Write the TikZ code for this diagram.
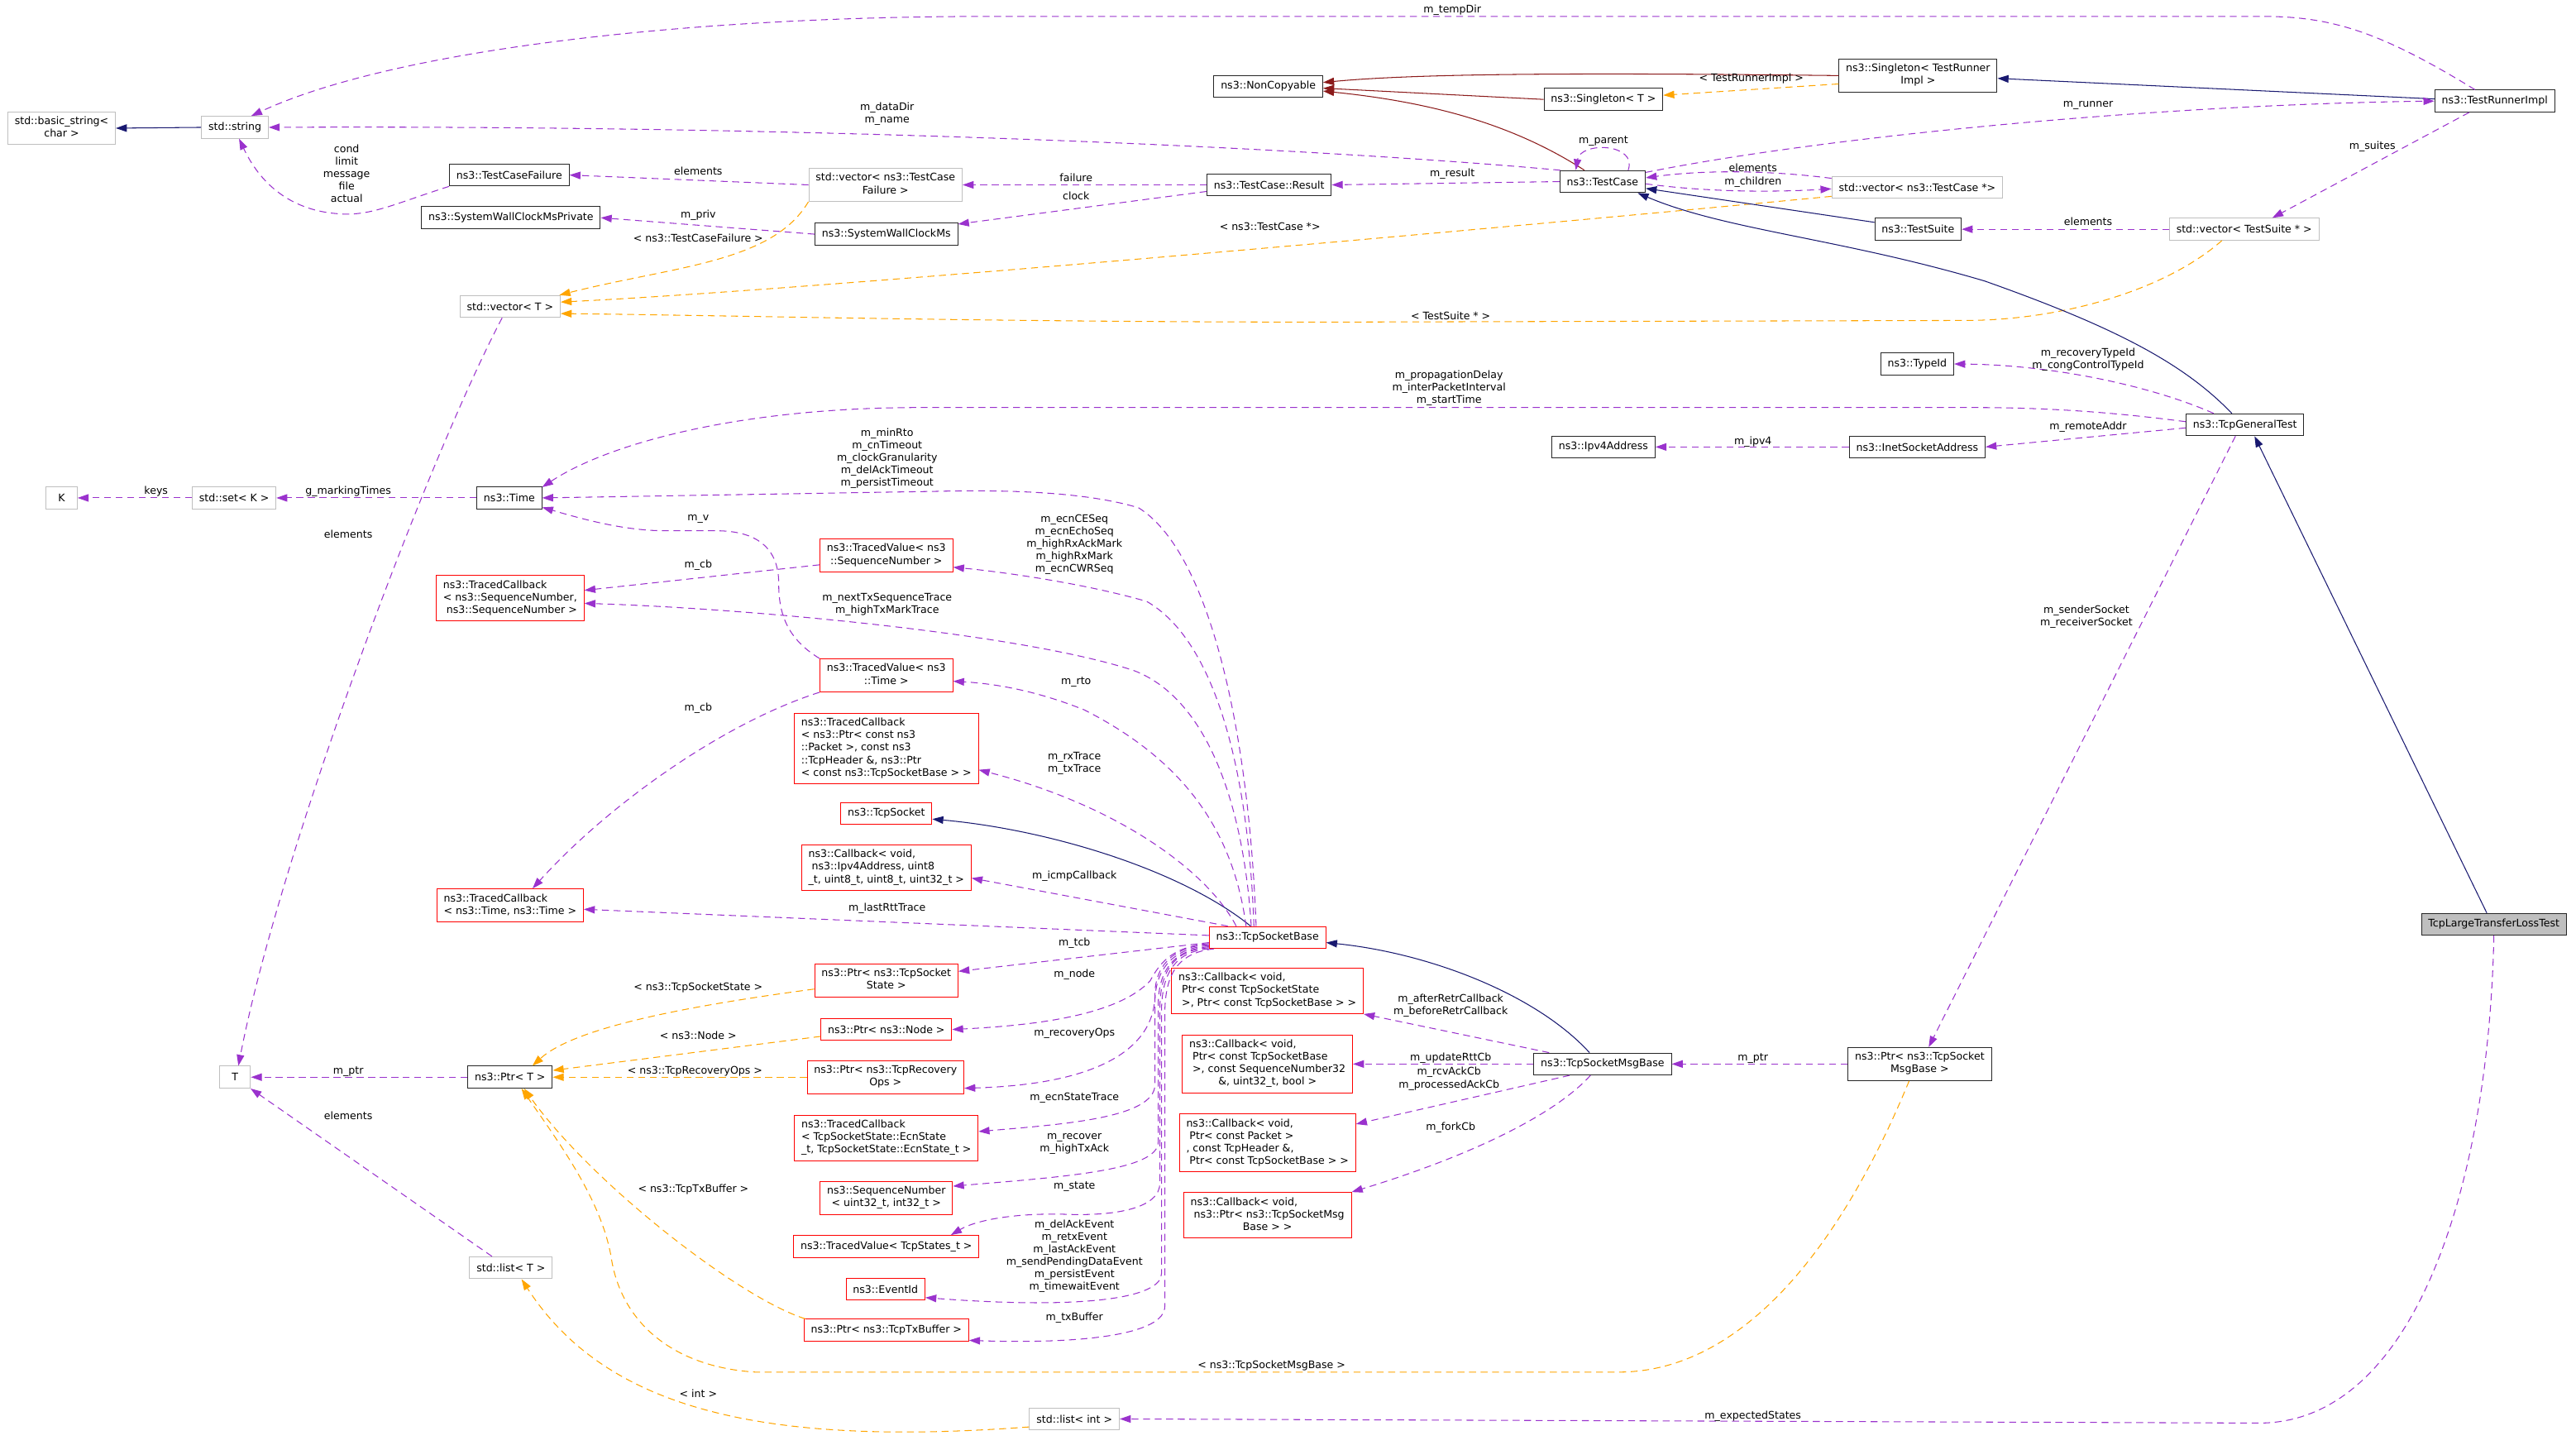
\documentclass[tikz,border=0pt]{standalone}
\usepackage{fontspec}
\setmainfont{DejaVu Sans}
\usetikzlibrary{arrows.meta}
\definecolor{usecol}{HTML}{9A32CD}
\definecolor{tplcol}{HTML}{FFA500}
\definecolor{inhcol}{HTML}{191970}
\definecolor{nccol}{HTML}{8B1A1A}
\definecolor{extcol}{HTML}{BFBFBF}
\newcommand{\twoln}[2]{\begin{tabular}{@{}l@{}}#1\\\multicolumn{1}{@{}c@{}}{#2}\end{tabular}}
\begin{document}
\begin{tikzpicture}[x=0.05cm, y=-0.05cm,
    font=\fontsize{9}{10.8}\selectfont,
    cls/.style={rectangle, draw, line width=0.7pt, fill=white, inner xsep=6pt, inner ysep=3.5pt, minimum height=19pt, minimum width=27pt},
    doc/.style={cls, draw=black!85},
    ext/.style={cls, draw=extcol},
    trunc/.style={cls, draw=red},
    main/.style={cls, draw=black!85, fill=extcol},
    lbl/.style={inner sep=0pt, align=center},
    usage/.style={usecol, line width=0.75pt, dash pattern=on 6pt off 4pt, -{Triangle[length=9.5pt,width=6.5pt]}},
    tpl/.style={usage, tplcol},
    inh/.style={inhcol, line width=0.75pt, -{Triangle[length=9.5pt,width=6.5pt]}},
    ncinh/.style={inh, nccol}]
    \useasboundingbox (0,0) rectangle (1568,882);
    \node[ext] (bstr) at (37.5,78) {\twoln{std::basic\_string<}{char >}};
    \node[ext] (str) at (143,77.5) {std::string};
    \node[doc] (tcf) at (310,106.5) {ns3::TestCaseFailure};
    \node[doc] (swcp) at (311,132.5) {ns3::SystemWallClockMsPrivate};
    \node[ext] (vtcf) at (539,112.5) {\twoln{std::vector< ns3::TestCase}{Failure >}};
    \node[doc] (swc) at (539.5,142.5) {ns3::SystemWallClockMs};
    \node[ext] (vect) at (310.5,186.5) {std::vector< T >};
    \node[doc] (nc) at (772,52.5) {ns3::NonCopyable};
    \node[doc] (sgt) at (976,60.5) {ns3::Singleton< T >};
    \node[doc] (sgtr) at (1167.5,46) {\twoln{ns3::Singleton< TestRunner}{Impl >}};
    \node[doc] (tri) at (1518.5,61.5) {ns3::TestRunnerImpl};
    \node[doc] (tc) at (975.5,110.5) {ns3::TestCase};
    \node[doc] (tcr) at (772.5,112.5) {ns3::TestCase::Result};
    \node[ext] (vtc) at (1167,114) {std::vector< ns3::TestCase *>};
    \node[doc] (ts) at (1167.5,139.5) {ns3::TestSuite};
    \node[ext] (vts) at (1366,139.5) {std::vector< TestSuite * >};
    \node[doc] (tid) at (1167,221.5) {ns3::TypeId};
    \node[doc] (tgt) at (1366.5,258.5) {ns3::TcpGeneralTest};
    \node[doc] (ipv4) at (976,272) {ns3::Ipv4Address};
    \node[doc] (isa) at (1167,272) {ns3::InetSocketAddress};
    \node[ext] (kk) at (37.5,303) {K};
    \node[ext] (setk) at (142.5,303) {std::set< K >};
    \node[doc] (time) at (310,303) {ns3::Time};
    \node[trunc] (tcbseq) at (310.5,364) {\twoln{ns3::TracedCallback\\< ns3::SequenceNumber,}{\ ns3::SequenceNumber >}};
    \node[trunc] (tvseq) at (539.5,338) {\twoln{ns3::TracedValue< ns3}{::SequenceNumber >}};
    \node[trunc] (tvtime) at (539.5,411) {\twoln{ns3::TracedValue< ns3}{::Time >}};
    \node[trunc] (tcbpkt) at (539.5,455.5) {\twoln{ns3::TracedCallback\\< ns3::Ptr< const ns3\\::Packet >, const ns3\\::TcpHeader \&, ns3::Ptr}{< const ns3::TcpSocketBase > >}};
    \node[trunc] (tcps) at (539.5,495) {ns3::TcpSocket};
    \node[trunc] (cbipv4) at (539.5,528) {\twoln{ns3::Callback< void,\\\ ns3::Ipv4Address, uint8}{\_t, uint8\_t, uint8\_t, uint32\_t >}};
    \node[trunc] (tcbtime) at (310.5,551) {\twoln{ns3::TracedCallback}{< ns3::Time, ns3::Time >}};
    \node[trunc] (tsb) at (771.5,570.5) {ns3::TcpSocketBase};
    \node[trunc] (ptss) at (539.5,596.5) {\twoln{ns3::Ptr< ns3::TcpSocket}{State >}};
    \node[trunc] (pnode) at (539.5,626.5) {ns3::Ptr< ns3::Node >};
    \node[trunc] (prec) at (539,655.5) {\twoln{ns3::Ptr< ns3::TcpRecovery}{Ops >}};
    \node[ext] (tt) at (143,655.5) {T};
    \node[doc] (ptrt) at (310.5,655.5) {ns3::Ptr< T >};
    \node[trunc] (tcbecn) at (539.5,692.5) {\twoln{ns3::TracedCallback\\< TcpSocketState::EcnState}{\_t, TcpSocketState::EcnState\_t >}};
    \node[trunc] (seqn) at (539.5,729) {\twoln{ns3::SequenceNumber}{< uint32\_t, int32\_t >}};
    \node[trunc] (tvst) at (539.5,758.5) {ns3::TracedValue< TcpStates\_t >};
    \node[trunc] (evid) at (539,784.5) {ns3::EventId};
    \node[trunc] (ptxb) at (539.5,809.5) {ns3::Ptr< ns3::TcpTxBuffer >};
    \node[ext] (listt) at (311,771.5) {std::list< T >};
    \node[ext] (listi) at (654,863.5) {std::list< int >};
    \node[trunc] (cbss) at (771.5,603) {\twoln{ns3::Callback< void,\\\ Ptr< const TcpSocketState}{\ >, Ptr< const TcpSocketBase > >}};
    \node[trunc] (cbseq) at (771.5,647.5) {\twoln{ns3::Callback< void,\\\ Ptr< const TcpSocketBase\\\ >, const SequenceNumber32}{\&, uint32\_t, bool >}};
    \node[trunc] (cbpkt) at (771.5,695.5) {\twoln{ns3::Callback< void,\\\ Ptr< const Packet >\\, const TcpHeader \&,}{\ Ptr< const TcpSocketBase > >}};
    \node[trunc] (cbmsg) at (771.5,739.5) {\twoln{ns3::Callback< void,\\\ ns3::Ptr< ns3::TcpSocketMsg}{Base > >}};
    \node[doc] (tsmb) at (975.5,647.5) {ns3::TcpSocketMsgBase};
    \node[doc] (pmsg) at (1168.5,647.5) {\twoln{ns3::Ptr< ns3::TcpSocket}{MsgBase >}};
    \node[main] (tlt) at (1518,562.5) {TcpLargeTransferLossTest};

    \draw[inh] (str.west) -- (bstr.east);
    \draw[usage] (tri.150) .. controls (1450,20) and (1420,10) .. (1378,10) -- (600,10) .. controls (420,10) and (240,30) .. (str.35);
    \draw[usage] (tc.165) .. controls (800,90) and (500,76) .. (str.east);
    \draw[usage] (tcf.south west) .. controls (240,124) and (225,132) .. (205,130) .. controls (180,128) and (160,115) .. (str.-70);
    \draw[usage] (vtcf.west) -- (tcf.east);
    \draw[usage] (tcr.west) -- (vtcf.east);
    \draw[usage] (tcr.186) -- (swc.8);
    \draw[usage] (swc.west) -- (swcp.east);
    \draw[tpl] (vtcf.south west) .. controls (470,160) and (410,162) .. (vect.13);
    \draw[tpl] (vtc.186) .. controls (900,140) and (500,176) .. (vect.5);
    \draw[tpl] (vts.207) .. controls (1320,175) and (1260,194) .. (1200,195) -- (810,196) .. controls (600,196) and (450,192) .. (vect.-8);
    \draw[ncinh] (tc.148) .. controls (920,75) and (870,62) .. (nc.-5);
    \draw[ncinh] (sgt.west) -- (nc.-2);
    \draw[ncinh] (sgtr.west) .. controls (950,44) and (860,45) .. (nc.4);
    \draw[tpl] (sgtr.186) -- (sgt.4);
    \draw[inh] (tri.178) -- (sgtr.-2);
    \draw[usage] (tc.12) .. controls (1100,85) and (1300,64) .. (tri.west);
    \draw[usage] (tc.west) -- (tcr.east);
    \draw[usage] (tc.24) .. controls (997,87) and (962,86) .. (tc.157);
    \draw[usage] (vtc.174) .. controls (1080,104) and (1040,103) .. (tc.5);
    \draw[usage] (tc.-3) .. controls (1040,117) and (1080,117) .. (vtc.181);
    \draw[inh] (ts.171) -- (tc.-9);
    \draw[inh] (tgt.139) .. controls (1330,222) and (1290,200) .. (1208,171) .. controls (1120,145) and (1050,140) .. (tc.-18);
    \draw[usage] (tri.204) -- (vts.22);
    \draw[usage] (vts.west) -- (ts.east);
    \draw[usage] (tgt.160) .. controls (1310,235) and (1250,222) .. (tid.east);
    \draw[usage] (tgt.177) .. controls (1280,250) and (1240,248) .. (1200,248) -- (560,248) .. controls (450,248) and (370,270) .. (time.18);
    \draw[usage] (tgt.183) -- (isa.east);
    \draw[usage] (isa.west) -- (ipv4.east);
    \draw[usage] (tgt.230) -- (pmsg.62);
    \draw[inh] (tlt.122) -- (tgt.-50);
    \draw[usage] (tlt.south) .. controls (1515,720) and (1470,866) .. (1375,866) -- (listi.east);
    \draw[tpl] (listi.190) .. controls (470,880) and (370,860) .. (listt.-47);
    \draw[usage] (listt.149) -- (tt.-36);
    \draw[usage] (vect.235) .. controls (260,280) and (170,520) .. (tt.73);
    \draw[usage] (setk.west) -- (kk.east);
    \draw[usage] (time.west) -- (setk.east);
    \draw[usage] (ptrt.west) -- (tt.east);
    \draw[tpl] (ptss.187) .. controls (420,612) and (350,625) .. (ptrt.27);
    \draw[tpl] (pnode.186) -- (ptrt.9);
    \draw[tpl] (prec.west) -- (ptrt.east);
    \draw[tpl] (ptxb.172) .. controls (450,790) and (360,720) .. (ptrt.-39);
    \draw[tpl] (pmsg.238) .. controls (1120,760) and (1060,835) .. (985,835) -- (460,835) .. controls (410,832) and (378,805) .. (372,765) .. controls (366,730) and (340,695) .. (ptrt.-45);
    \draw[inh] (tsmb.139) .. controls (935,605) and (870,580) .. (tsb.-5);
    \draw[inh] (tsb.146) .. controls (720,530) and (640,505) .. (tcps.-7);
    \draw[usage] (tsmb.168) -- (cbss.south east);
    \draw[usage] (tsmb.west) -- (cbseq.east);
    \draw[usage] (tsmb.199) -- (cbpkt.12);
    \draw[usage] (tsmb.223) .. controls (945,680) and (890,705) .. (cbmsg.north east);
    \draw[usage] (pmsg.west) -- (tsmb.east);
    \draw[usage] (tvseq.188) -- (tcbseq.6);
    \draw[usage] (tvtime.north west) .. controls (478,388) and (474,372) .. (474,355) .. controls (474,333) and (460,323) .. (436,323) -- (405,323) .. controls (380,323) and (355,316) .. (time.-16);
    \draw[usage] (tvtime.south west) .. controls (440,440) and (370,490) .. (tcbtime.37);
    \draw[usage] (tsb.135) .. controls (760,440) and (735,335) .. (693,309) .. controls (660,299) and (610,298) .. (570,299) -- (time.east);
    \draw[usage] (tsb.140) .. controls (760,470) and (740,390) .. (698,366) .. controls (660,355) and (610,348) .. (tvseq.-10);
    \draw[usage] (tsb.145) .. controls (757,490) and (735,425) .. (690,408) .. controls (620,385) and (450,370) .. (tcbseq.-4);
    \draw[usage] (tsb.152) .. controls (750,500) and (715,460) .. (660,432) .. controls (630,420) and (605,416) .. (tvtime.-5);
    \draw[usage] (tsb.160) .. controls (735,530) and (680,490) .. (tcbpkt.-13);
    \draw[usage] (tsb.164) -- (cbipv4.-7);
    \draw[usage] (tsb.178) -- (tcbtime.-3);
    \draw[usage] (tsb.185) -- (ptss.7);
    \draw[usage] (tsb.186) .. controls (712,576) and (705,588) .. (700,597) .. controls (680,618) and (630,624) .. (pnode.east);
    \draw[usage] (tsb.187) .. controls (712,576) and (703,590) .. (703,605) .. controls (703,640) and (665,660) .. (prec.-8);
    \draw[usage] (tsb.188) .. controls (712,577) and (703,592) .. (703,610) -- (703,660) .. controls (703,680) and (650,684) .. (tcbecn.4);
    \draw[usage] (tsb.189) .. controls (713,578) and (705,592) .. (705,612) -- (705,695) .. controls (705,712) and (650,716) .. (seqn.10);
    \draw[usage] (tsb.190) .. controls (713,578) and (706,593) .. (706,614) -- (706,720) .. controls (706,735) and (680,740) .. (650,739) .. controls (620,738) and (595,742) .. (tvst.10);
    \draw[usage] (tsb.191) .. controls (714,579) and (707,594) .. (707,616) -- (707,775) .. controls (707,790) and (660,797) .. (evid.-12);
    \draw[usage] (tsb.192) .. controls (715,580) and (709,595) .. (709,618) -- (709,795) .. controls (709,812) and (660,818) .. (ptxb.-7);

    \node[lbl] (lbTempDir) at (884,6) {m\_tempDir};
    \node[lbl] (lbDataDir) at (540,69.5) {m\_dataDir\\m\_name};
    \node[lbl] (lbCond) at (211,105.5) {cond\\limit\\message\\file\\actual};
    \node[lbl] (lbElemTcf) at (425,104) {elements};
    \node[lbl] (lbFailure) at (655,108) {failure};
    \node[lbl] (lbClock) at (655,119) {clock};
    \node[lbl] (lbPriv) at (425,131) {m\_priv};
    \node[lbl] (lbTcfT) at (425,145) {< ns3::TestCaseFailure >};
    \node[lbl] (lbTcT) at (773,138) {< ns3::TestCase *>};
    \node[lbl] (lbTsT) at (883,192) {< TestSuite * >};
    \node[lbl] (lbTriT) at (1066,48) {< TestRunnerImpl >};
    \node[lbl] (lbRunner) at (1271,64) {m\_runner};
    \node[lbl] (lbResult) at (884,106) {m\_result};
    \node[lbl] (lbParent) at (976,86) {m\_parent};
    \node[lbl] (lbElemTc) at (1067,102) {elements};
    \node[lbl] (lbChildren) at (1067,111) {m\_children};
    \node[lbl] (lbSuites) at (1444,89) {m\_suites};
    \node[lbl] (lbElemTs) at (1271,135) {elements};
    \node[lbl] (lbTypeId) at (1271,219) {m\_recoveryTypeId\\m\_congControlTypeId};
    \node[lbl] (lbPropDelay) at (882,236) {m\_propagationDelay\\m\_interPacketInterval\\m\_startTime};
    \node[lbl] (lbRemote) at (1271,260) {m\_remoteAddr};
    \node[lbl] (lbIpv4) at (1067,269) {m\_ipv4};
    \node[lbl] (lbSender) at (1270,375.5) {m\_senderSocket\\m\_receiverSocket};
    \node[lbl] (lbKeys) at (95,299) {keys};
    \node[lbl] (lbMarking) at (212,299) {g\_markingTimes};
    \node[lbl] (lbElemVecT) at (212,325) {elements};
    \node[lbl] (lbMinRto) at (540,279) {m\_minRto\\m\_cnTimeout\\m\_clockGranularity\\m\_delAckTimeout\\m\_persistTimeout};
    \node[lbl] (lbEcnSeq) at (654,331.5) {m\_ecnCESeq\\m\_ecnEchoSeq\\m\_highRxAckMark\\m\_highRxMark\\m\_ecnCWRSeq};
    \node[lbl] (lbV) at (425,316) {m\_v};
    \node[lbl] (lbCbSeq) at (425,344) {m\_cb};
    \node[lbl] (lbNextTx) at (540,368) {m\_nextTxSequenceTrace\\m\_highTxMarkTrace};
    \node[lbl] (lbRto) at (655,415) {m\_rto};
    \node[lbl] (lbCbTime) at (425,431) {m\_cb};
    \node[lbl] (lbRxTrace) at (654,464.5) {m\_rxTrace\\m\_txTrace};
    \node[lbl] (lbIcmp) at (654,533) {m\_icmpCallback};
    \node[lbl] (lbLastRtt) at (540,553) {m\_lastRttTrace};
    \node[lbl] (lbTcb) at (654,574) {m\_tcb};
    \node[lbl] (lbNode) at (654,593) {m\_node};
    \node[lbl] (lbRecOps) at (654,629) {m\_recoveryOps};
    \node[lbl] (lbEcnState) at (654,668) {m\_ecnStateTrace};
    \node[lbl] (lbRecover) at (654,696) {m\_recover\\m\_highTxAck};
    \node[lbl] (lbState) at (654,722) {m\_state};
    \node[lbl] (lbEvents) at (654,764.5) {m\_delAckEvent\\m\_retxEvent\\m\_lastAckEvent\\m\_sendPendingDataEvent\\m\_persistEvent\\m\_timewaitEvent};
    \node[lbl] (lbTxBuf) at (654,802) {m\_txBuffer};
    \node[lbl] (lbTssT) at (425,601) {< ns3::TcpSocketState >};
    \node[lbl] (lbNodeT) at (425,630) {< ns3::Node >};
    \node[lbl] (lbRecT) at (423,652) {< ns3::TcpRecoveryOps >};
    \node[lbl] (lbPtrT) at (212,652) {m\_ptr};
    \node[lbl] (lbElemList) at (212,679) {elements};
    \node[lbl] (lbTxT) at (422,724) {< ns3::TcpTxBuffer >};
    \node[lbl] (lbMsgT) at (774,831) {< ns3::TcpSocketMsgBase >};
    \node[lbl] (lbInt) at (425,848) {< int >};
    \node[lbl] (lbExpected) at (1067,862) {m\_expectedStates};
    \node[lbl] (lbRetr) at (883,612) {m\_afterRetrCallback\\m\_beforeRetrCallback};
    \node[lbl] (lbRtt) at (883,644) {m\_updateRttCb};
    \node[lbl] (lbAck) at (882,656.5) {m\_rcvAckCb\\m\_processedAckCb};
    \node[lbl] (lbFork) at (883,686) {m\_forkCb};
    \node[lbl] (lbPtrMsg) at (1067,644) {m\_ptr};
\end{tikzpicture}
\end{document}
